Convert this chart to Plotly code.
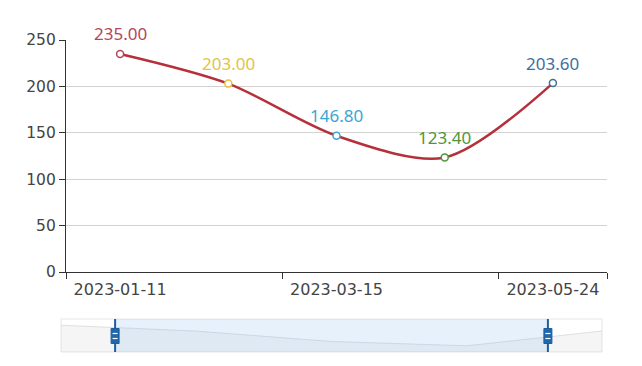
import plotly.graph_objects as go

categories = ["2023-01-11", "2023-02-12", "2023-03-15", "2023-04-19", "2023-05-24"]
values = [235.00, 203.00, 146.80, 123.40, 203.60]
point_colors = ["#b3465a", "#e3c444", "#3aa6d3", "#4f963a", "#3d6f9f"]
y_ticks = [0, 50, 100, 150, 200, 250]
zoom_start, zoom_end = 10, 90  # percent

idx = list(range(len(categories)))
vmin, vmax = min(values), max(values)
off = (vmax - vmin) * 0.3
shadow_range = [vmin - off, vmax + off]

fig = go.Figure()

# main line
fig.add_trace(go.Scatter(
    x=categories, y=values, mode="lines+markers",
    line=dict(color="#b5303a", width=2.5, shape="spline", smoothing=0.85),
    marker=dict(symbol="circle", size=7, color="white",
                line=dict(color=point_colors, width=1.5)),
    hoverinfo="skip", showlegend=False, xaxis="x", yaxis="y",
))

# slider data shadow
fig.add_trace(go.Scatter(
    x=idx, y=values, mode="lines", fill="tozeroy",
    line=dict(color="rgba(205,205,210,0.6)", width=1),
    fillcolor="rgba(190,190,190,0.15)",
    hoverinfo="skip", showlegend=False, xaxis="x2", yaxis="y2",
))

for c, v, col in zip(categories, values, point_colors):
    fig.add_annotation(x=c, y=v, xref="x", yref="y", text=f"{v:.2f}",
                       showarrow=False, yshift=20, yanchor="middle",
                       font=dict(family="Noto Sans", size=17, color=col))

shapes = []
# slider border
shapes.append(dict(type="rect", xref="x2 domain", yref="y2 domain",
                   x0=0, x1=1, y0=0, y1=1,
                   line=dict(color="#e2e6ee", width=1), fillcolor="rgba(0,0,0,0)", layer="below"))
# selected window filler
shapes.append(dict(type="rect", xref="x2 domain", yref="y2 domain",
                   x0=zoom_start / 100, x1=zoom_end / 100, y0=0, y1=1,
                   line=dict(width=0), fillcolor="rgba(135,185,240,0.2)", layer="above"))
for p in (zoom_start / 100, zoom_end / 100):
    shapes.append(dict(type="line", xref="x2 domain", yref="y2 domain",
                       x0=p, x1=p, y0=0, y1=1,
                       line=dict(color="#1d5f9e", width=2)))
    shapes.append(dict(type="rect", xref="x2 domain", yref="y2 domain",
                       xsizemode="pixel", xanchor=p, x0=-4, x1=4,
                       ysizemode="pixel", yanchor=0.5, y0=-8, y1=7,
                       line=dict(color="#1d5f9e", width=1), fillcolor="#2168aa"))
    for dy in (-3, 2):
        shapes.append(dict(type="line", xref="x2 domain", yref="y2 domain",
                           xsizemode="pixel", xanchor=p, x0=-2.5, x1=2.5,
                           ysizemode="pixel", yanchor=0.5, y0=dy, y1=dy,
                           line=dict(color="white", width=1.2)))

fig.update_layout(
    width=634, height=358,
    margin=dict(l=53, r=35, t=32, b=14, autoexpand=False),
    paper_bgcolor="white", plot_bgcolor="white",
    font=dict(family="DejaVu Sans", size=15, color="#444"),
    shapes=shapes,
    xaxis=dict(
        type="category", categoryorder="array", categoryarray=categories,
        domain=[5 / 546, 1], range=[-0.5, len(categories) - 0.5],
        tickmode="array", tickvals=categories[::2], tickson="boundaries",
        ticks="outside", ticklen=6, tickcolor="#333", tickwidth=1,
        ticklabelstandoff=3,
        showline=True, linecolor="#333", linewidth=1.2,
        showgrid=False, zeroline=False, anchor="y", automargin=False,
        tickfont=dict(family="DejaVu Sans", size=16, color="#444"),
    ),
    yaxis=dict(
        domain=[80 / 312, 1], range=[0, 250],
        tickmode="array", tickvals=y_ticks,
        ticks="outside", ticklen=6, tickcolor="#333", tickwidth=1,
        showline=True, linecolor="#333", linewidth=1.2,
        showgrid=True, gridcolor="#d2d2d2", gridwidth=1,
        zeroline=False, anchor="x", automargin=False,
        tickfont=dict(family="DejaVu Sans", size=15.5, color="#444"),
    ),
    xaxis2=dict(domain=[0, 541 / 546], range=[0, len(categories) - 1],
                visible=False, anchor="y2", fixedrange=True, automargin=False),
    yaxis2=dict(domain=[0, 33 / 312], range=shadow_range,
                visible=False, anchor="x2", fixedrange=True, automargin=False),
)

fig.write_html("out.html")
